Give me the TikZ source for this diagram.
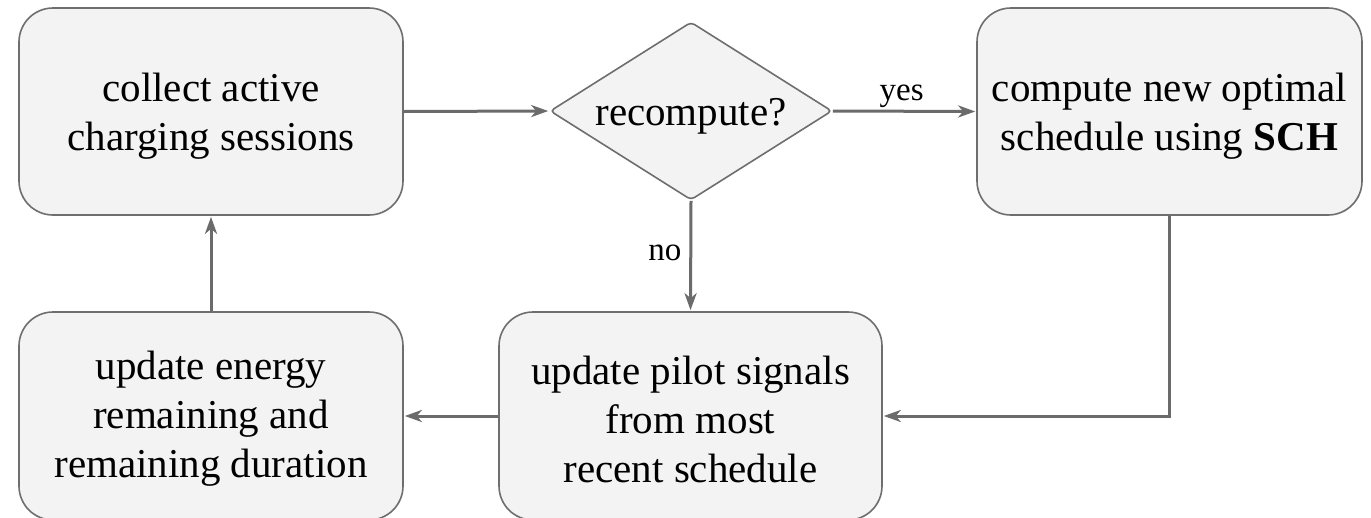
\documentclass[tikz,border=0pt]{standalone}
\usepackage{fontspec}
\setmainfont{Liberation Serif}
\usetikzlibrary{shapes.geometric,arrows.meta}
\definecolor{boxfill}{HTML}{F3F3F3}
\definecolor{boxline}{HTML}{6E6E6E}
\definecolor{conn}{HTML}{6B6B6B}
\begin{document}
\begin{tikzpicture}[x=1pt,y=-1pt,
  procbox/.style={draw=boxline,fill=boxfill,line width=1.6pt,rounded corners=34pt,
    minimum width=384pt,minimum height=207pt,inner sep=0pt},
  decbox/.style={draw=boxline,fill=boxfill,line width=1.6pt,diamond,rounded corners=4pt,
    minimum width=282pt,minimum height=178pt,inner sep=0pt},
  boxtext/.style={inner sep=0pt,align=center,font=\fontsize{41}{49}\selectfont},
  conn/.style={draw=conn,line width=3pt,-{Stealth[length=17pt,width=12pt,inset=5pt]},shorten >=1pt},
  lbl/.style={font=\fontsize{33}{38}\selectfont,inner sep=2pt}
]
\clip (0,0) rectangle (1371,517);
\fill[white] (0,0) rectangle (1371,517);
\node[procbox] (collect) at (211,111.5) {};
\node[boxtext] (collecttext) at (211,116) {collect active\\charging sessions};
\node[decbox] (rec) at (691,111) {};
\node[boxtext] (rectext) at (691,116) {recompute?};
\node[procbox,minimum width=385pt] (comp) at (1169.5,111.5) {};
\node[boxtext] (comptext) at (1169.5,116) {compute new optimal\\schedule using \textbf{SCH}};
\node[procbox,minimum width=383pt,minimum height=208pt] (pilot) at (690.5,416) {};
\node[boxtext] (pilottext) at (690.5,419) {update pilot signals\\from most\\recent schedule};
\node[procbox,minimum height=208pt] (upd) at (211,416) {};
\node[boxtext] (updtext) at (211,419) {update energy\\remaining and\\remaining duration};
\draw[conn] (collect.east) -- (rec.west);
\draw[conn] (rec.east) -- node[lbl,above,pos=0.48] (yes) {yes} (comp.west);
\draw[conn] (rec.south) -- node[lbl,left,pos=0.47,inner sep=8pt] (no) {no} (pilot.north);
\draw[conn] (comp.south) |- (pilot.east);
\draw[conn] (pilot.west) -- (upd.east);
\draw[conn] (upd.north) -- (collect.south);
\end{tikzpicture}
\end{document}
